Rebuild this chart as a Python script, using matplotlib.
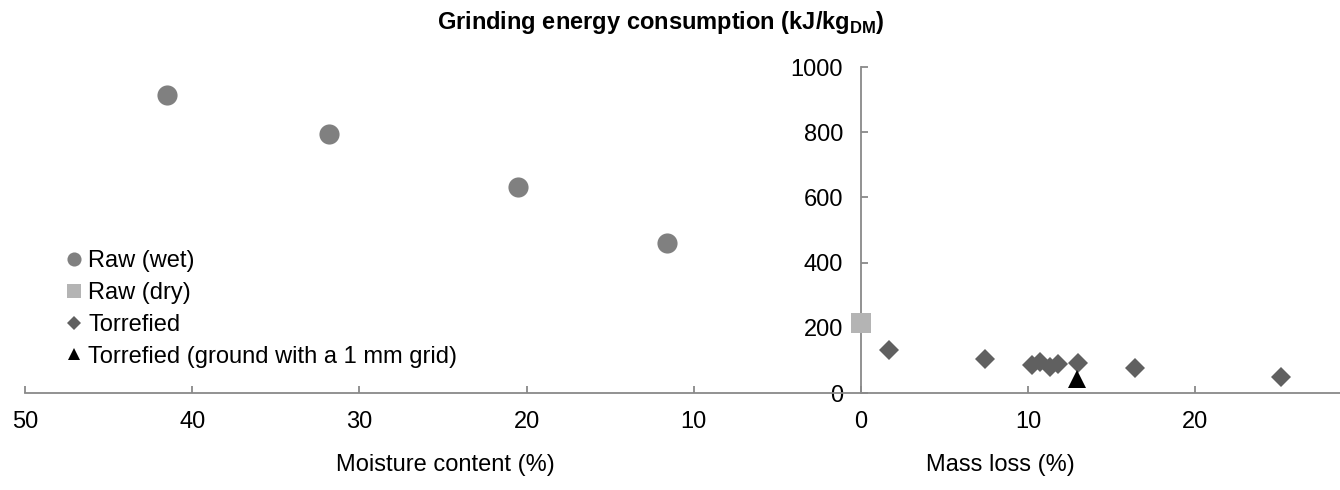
import matplotlib
matplotlib.use('Agg')
import matplotlib.pyplot as plt
import matplotlib.ticker as ticker

plt.rcParams['font.family'] = ['Liberation Sans', 'DejaVu Sans']
plt.rcParams['mathtext.fontset'] = 'custom'
plt.rcParams['mathtext.rm'] = 'Liberation Sans'
plt.rcParams['mathtext.bf'] = 'Liberation Sans:bold'
font_size = 17
axis_color = '#898989'

# raw (wet) samples: moisture content (%) and grinding energy (kJ/kg DM)
wet_moisture = [41.5, 31.8, 20.5, 11.6]
wet_energy = [914, 796, 632, 460]

# raw (dry) sample
dry_mass_loss = [0]
dry_energy = [215]

# torrefied samples: mass loss (%) and grinding energy
torr_mass_loss = [1.7, 7.4, 10.2, 10.7, 11.3, 11.8, 13.0, 16.4, 25.1]
torr_energy = [132, 104, 86, 96, 79, 89, 91, 76, 48]

# torrefied, ground with a 1 mm grid
grid_mass_loss = [12.9]
grid_energy = [43]

x_ticks = [-50, -40, -30, -20, -10, 0, 10, 20]
y_ticks = [0, 200, 400, 600, 800, 1000]


def abs_label(value, pos):
    return f'{abs(value):.0f}'


fig = plt.figure(figsize=(13.4, 4.9), dpi=100)
ax = fig.add_axes([25 / 1340, 97 / 490, 1315 / 1340, 326 / 490])

ax.plot([-m for m in wet_moisture], wet_energy, 'o', color='#808080', markersize=14.5,
        markeredgewidth=0, label='Raw (wet)', clip_on=False)
ax.plot(dry_mass_loss, dry_energy, 's', color='#b4b4b4', markersize=14.4,
        markeredgewidth=0, label='Raw (dry)', clip_on=False, zorder=3)
ax.plot(torr_mass_loss, torr_energy, 'D', color='#606060', markersize=9.7,
        markeredgewidth=0, label='Torrefied', clip_on=False)
ax.plot(grid_mass_loss, grid_energy, '^', color='black', markersize=13,
        markeredgewidth=0, label='Torrefied (ground with a 1 mm grid)', clip_on=False)

ax.set_xlim(-50, 28.65)
ax.set_ylim(0, 1000)
ax.set_xticks(x_ticks)
ax.set_yticks(y_ticks)
ax.xaxis.set_major_formatter(ticker.FuncFormatter(abs_label))

for side in ['top', 'right']:
    ax.spines[side].set_visible(False)
ax.spines['left'].set_position(('data', 0))
for side in ['left', 'bottom']:
    ax.spines[side].set_color(axis_color)
    ax.spines[side].set_linewidth(1.3)
ax.tick_params(axis='both', direction='in', length=5, width=1.3, color=axis_color,
               labelsize=font_size, pad=13)
ax.patch.set_visible(False)

leg = ax.legend(loc='upper left', bbox_to_anchor=(67 / 1340, 1 - 250 / 490),
                bbox_transform=fig.transFigure, frameon=False, fontsize=font_size,
                markerscale=0.7, handlelength=0.6, handletextpad=0.3,
                borderpad=0, borderaxespad=0, labelspacing=0.42, numpoints=1)

fig.text(661 / 1340, 1 - 22 / 490, r'Grinding energy consumption (kJ/kg$_{\mathbf{DM}}$)',
         ha='center', va='center', fontsize=font_size, fontweight='bold')
fig.text(445 / 1340, 25 / 490, 'Moisture content (%)', ha='center', va='center',
         fontsize=font_size)
fig.text(1000 / 1340, 25 / 490, 'Mass loss (%)', ha='center', va='center',
         fontsize=font_size)

plt.savefig('out.png', dpi=100)
